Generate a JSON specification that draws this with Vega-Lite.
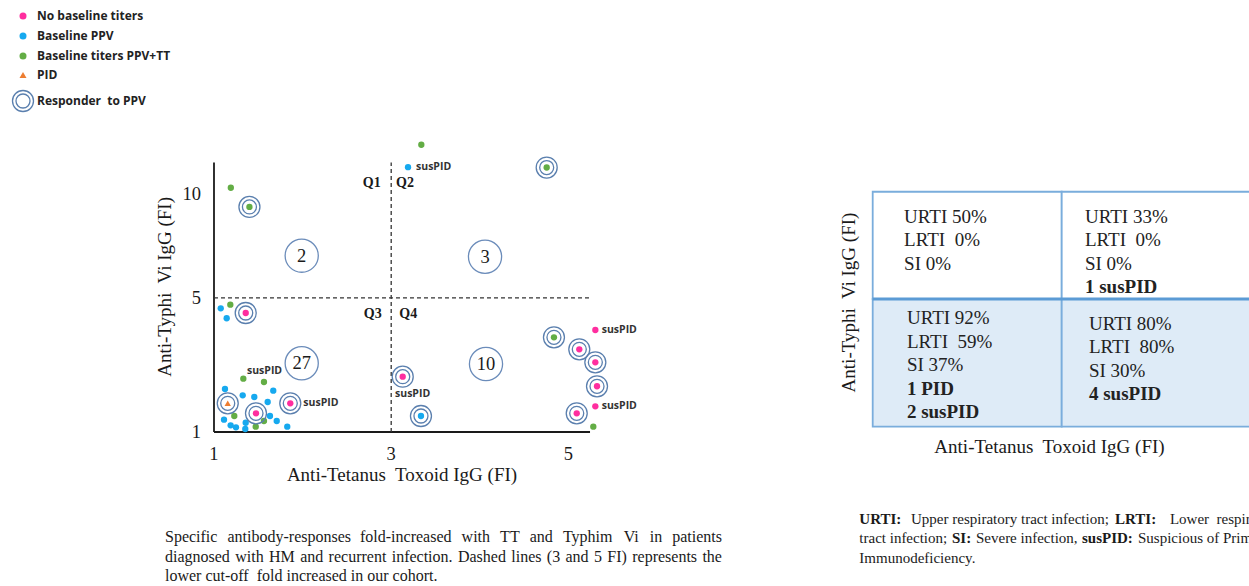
{
  "$schema": "https://vega.github.io/schema/vega-lite/v6.json",
  "width": 1249,
  "height": 586,
  "autosize": {"type": "fit", "contains": "padding"},
  "padding": 0,
  "background": "white",
  "config": {"view": {"stroke": null}},
  "datasets": {
    "points": [
      {"tt": 1.19, "vi": 10.35, "group": "Baseline titers PPV+TT", "resp": false},
      {"tt": 1.40, "vi": 9.29, "group": "Baseline titers PPV+TT", "resp": true},
      {"tt": 3.34, "vi": 12.93, "group": "Baseline titers PPV+TT", "resp": false},
      {"tt": 3.19, "vi": 11.55, "group": "Baseline PPV", "resp": false},
      {"tt": 4.755, "vi": 11.53, "group": "Baseline titers PPV+TT", "resp": true},
      {"tt": 1.076, "vi": 4.585, "group": "Baseline PPV", "resp": false},
      {"tt": 1.184, "vi": 4.726, "group": "Baseline titers PPV+TT", "resp": false},
      {"tt": 1.143, "vi": 4.206, "group": "Baseline PPV", "resp": false},
      {"tt": 1.358, "vi": 4.405, "group": "No baseline titers", "resp": true},
      {"tt": 1.331, "vi": 2.245, "group": "Baseline titers PPV+TT", "resp": false},
      {"tt": 1.564, "vi": 2.154, "group": "Baseline titers PPV+TT", "resp": false},
      {"tt": 1.124, "vi": 1.968, "group": "Baseline PPV", "resp": false},
      {"tt": 1.324, "vi": 1.807, "group": "Baseline PPV", "resp": false},
      {"tt": 1.455, "vi": 1.765, "group": "Baseline PPV", "resp": false},
      {"tt": 1.606, "vi": 1.643, "group": "Baseline PPV", "resp": false},
      {"tt": 1.669, "vi": 1.924, "group": "Baseline PPV", "resp": false},
      {"tt": 1.155, "vi": 1.612, "group": "PID", "resp": true},
      {"tt": 1.474, "vi": 1.383, "group": "No baseline titers", "resp": true},
      {"tt": 1.861, "vi": 1.612, "group": "No baseline titers", "resp": true},
      {"tt": 1.229, "vi": 1.324, "group": "Baseline titers PPV+TT", "resp": false},
      {"tt": 1.113, "vi": 1.246, "group": "Baseline PPV", "resp": false},
      {"tt": 1.188, "vi": 1.13, "group": "Baseline PPV", "resp": false},
      {"tt": 1.248, "vi": 1.091, "group": "Baseline PPV", "resp": false},
      {"tt": 1.353, "vi": 1.058, "group": "Baseline PPV", "resp": false},
      {"tt": 1.358, "vi": 1.183, "group": "Baseline PPV", "resp": false},
      {"tt": 1.471, "vi": 1.103, "group": "Baseline titers PPV+TT", "resp": false},
      {"tt": 1.564, "vi": 1.218, "group": "Baseline titers PPV+TT", "resp": false},
      {"tt": 1.632, "vi": 1.324, "group": "Baseline PPV", "resp": false},
      {"tt": 1.708, "vi": 1.218, "group": "Baseline PPV", "resp": false},
      {"tt": 1.827, "vi": 1.103, "group": "Baseline PPV", "resp": false},
      {"tt": 3.13, "vi": 2.30, "group": "No baseline titers", "resp": true},
      {"tt": 3.336, "vi": 1.324, "group": "Baseline PPV", "resp": true},
      {"tt": 4.837, "vi": 3.527, "group": "Baseline titers PPV+TT", "resp": true},
      {"tt": 5.123, "vi": 3.127, "group": "No baseline titers", "resp": true},
      {"tt": 5.304, "vi": 2.72, "group": "No baseline titers", "resp": true},
      {"tt": 5.323, "vi": 2.039, "group": "No baseline titers", "resp": true},
      {"tt": 5.304, "vi": 3.781, "group": "No baseline titers", "resp": false},
      {"tt": 5.304, "vi": 1.542, "group": "No baseline titers", "resp": false},
      {"tt": 5.094, "vi": 1.383, "group": "No baseline titers", "resp": true},
      {"tt": 5.281, "vi": 1.103, "group": "Baseline titers PPV+TT", "resp": false}
    ],
    "labels": [
      {"tt": 3.28, "vi": 11.55, "text": "susPID"},
      {"tt": 1.372, "vi": 2.471, "text": "susPID"},
      {"tt": 2.008, "vi": 1.612, "text": "susPID"},
      {"tt": 3.043, "vi": 1.832, "text": "susPID"},
      {"tt": 5.376, "vi": 3.781, "text": "susPID"},
      {"tt": 5.376, "vi": 1.542, "text": "susPID"}
    ],
    "axes": [
      {"tt": 1, "tt2": 5.244, "vi": 1, "vi2": 1, "kind": "axis"},
      {"tt": 1, "tt2": 1, "vi": 1, "vi2": 11.83, "kind": "axis"},
      {"tt": 3, "tt2": 3, "vi": 1, "vi2": 11.83, "kind": "cutoff"},
      {"tt": 1, "tt2": 5.244, "vi": 5, "vi2": 5, "kind": "cutoff"}
    ],
    "quads": [
      {"tt": 1.99, "vi": 6.834, "n": "2"},
      {"tt": 4.059, "vi": 6.786, "n": "3"},
      {"tt": 1.99, "vi": 2.690, "n": "27"},
      {"tt": 4.07, "vi": 2.668, "n": "10"}
    ],
    "qlabels": [
      {"tt": 2.78, "vi": 10.61, "q": "Q1"},
      {"tt": 3.156, "vi": 10.61, "q": "Q2"},
      {"tt": 2.791, "vi": 4.367, "q": "Q3"},
      {"tt": 3.193, "vi": 4.367, "q": "Q4"}
    ],
    "yticks": [
      {"tt": 0.853, "vi": 1, "text": "1"},
      {"tt": 0.853, "vi": 5, "text": "5"},
      {"tt": 0.853, "vi": 10, "text": "10"}
    ],
    "xticks": [
      {"tt": 1, "vi": 0.62, "text": "1"},
      {"tt": 3, "vi": 0.62, "text": "3"},
      {"tt": 5, "vi": 0.62, "text": "5"}
    ],
    "xtitle": [{"tt": 3.122, "vi": 0.3445, "text": "Anti-Tetanus\u00a0 Toxoid IgG (FI)"}],
    "ytitle": [{"tt": 0.447, "vi": 5.45, "text": "Anti-Typhi\u00a0 Vi IgG (FI)"}],
    "cells": [
      {"quad": "Q1", "row": "top", "tx": 0, "tx2": 1, "ty": 1, "ty2": 1.84},
      {"quad": "Q2", "row": "top", "tx": 1, "tx2": 2, "ty": 1, "ty2": 1.84},
      {"quad": "Q3", "row": "bottom", "tx": 0, "tx2": 1, "ty": 0, "ty2": 1},
      {"quad": "Q4", "row": "bottom", "tx": 1, "tx2": 2, "ty": 0, "ty2": 1}
    ],
    "midline": [{"tx": 0, "tx2": 2, "ty": 1}],
    "celltext": [
      {"quad": "Q1", "tx": 0.166, "ty": 1.6445, "text": "URTI 50%", "bold": false},
      {"quad": "Q1", "tx": 0.166, "ty": 1.4605, "text": "LRTI\u00a0 0%", "bold": false},
      {"quad": "Q1", "tx": 0.166, "ty": 1.2764, "text": "SI 0%", "bold": false},
      {"quad": "Q2", "tx": 1.123, "ty": 1.6445, "text": "URTI 33%", "bold": false},
      {"quad": "Q2", "tx": 1.123, "ty": 1.4605, "text": "LRTI\u00a0 0%", "bold": false},
      {"quad": "Q2", "tx": 1.123, "ty": 1.2764, "text": "SI 0%", "bold": false},
      {"quad": "Q2", "tx": 1.123, "ty": 1.0924, "text": "1 susPID", "bold": true},
      {"quad": "Q3", "tx": 0.181, "ty": 0.8489, "text": "URTI 92%", "bold": false},
      {"quad": "Q3", "tx": 0.181, "ty": 0.6656, "text": "LRTI\u00a0 59%", "bold": false},
      {"quad": "Q3", "tx": 0.181, "ty": 0.4824, "text": "SI 37%", "bold": false},
      {"quad": "Q3", "tx": 0.181, "ty": 0.2991, "text": "1 PID", "bold": true},
      {"quad": "Q3", "tx": 0.181, "ty": 0.1159, "text": "2 susPID", "bold": true},
      {"quad": "Q4", "tx": 1.144, "ty": 0.8042, "text": "URTI 80%", "bold": false},
      {"quad": "Q4", "tx": 1.144, "ty": 0.6218, "text": "LRTI\u00a0 80%", "bold": false},
      {"quad": "Q4", "tx": 1.144, "ty": 0.4393, "text": "SI 30%", "bold": false},
      {"quad": "Q4", "tx": 1.144, "ty": 0.2569, "text": "4 susPID", "bold": true}
    ],
    "tablextitle": [{"tx": 0.9354, "ty": -0.1566, "text": "Anti-Tetanus\u00a0 Toxoid IgG (FI)"}],
    "tableytitle": [{"tx": -0.1254, "ty": 0.9726, "text": "Anti-Typhi\u00a0 Vi IgG (FI)"}],
    "leftcaption": [
      {"fx": 0.1321, "fy": 0.9164, "text": "Specific"},
      {"fx": 0.18215, "fy": 0.9164, "text": "antibody-responses"},
      {"fx": 0.28822, "fy": 0.9164, "text": "fold-increased"},
      {"fx": 0.36957, "fy": 0.9164, "text": "with"},
      {"fx": 0.40041, "fy": 0.9164, "text": "TT"},
      {"fx": 0.42412, "fy": 0.9164, "text": "and"},
      {"fx": 0.45068, "fy": 0.9164, "text": "Typhim"},
      {"fx": 0.49931, "fy": 0.9164, "text": "Vi"},
      {"fx": 0.52018, "fy": 0.9164, "text": "in"},
      {"fx": 0.53822, "fy": 0.9164, "text": "patients"},
      {"fx": 0.1321, "fy": 0.9497, "text": "diagnosed"},
      {"fx": 0.18833, "fy": 0.9497, "text": "with"},
      {"fx": 0.2154, "fy": 0.9497, "text": "HM"},
      {"fx": 0.24032, "fy": 0.9497, "text": "and"},
      {"fx": 0.2631, "fy": 0.9497, "text": "recurrent"},
      {"fx": 0.31361, "fy": 0.9497, "text": "infection."},
      {"fx": 0.36664, "fy": 0.9497, "text": "Dashed"},
      {"fx": 0.40934, "fy": 0.9497, "text": "lines"},
      {"fx": 0.43782, "fy": 0.9497, "text": "(3"},
      {"fx": 0.45277, "fy": 0.9497, "text": "and"},
      {"fx": 0.47555, "fy": 0.9497, "text": "5"},
      {"fx": 0.48624, "fy": 0.9497, "text": "FI)"},
      {"fx": 0.50617, "fy": 0.9497, "text": "represents"},
      {"fx": 0.56239, "fy": 0.9497, "text": "the"},
      {"fx": 0.1321, "fy": 0.9829, "text": "lower cut-off\u00a0 fold increased in our cohort."}
    ],
    "rightcaption": [
      {"fx": 0.688, "fy": 0.8857, "text": "URTI:", "bold": true},
      {"fx": 0.7294, "fy": 0.8857, "text": "Upper respiratory tract infection;", "bold": false},
      {"fx": 0.8927, "fy": 0.8857, "text": "LRTI:", "bold": true},
      {"fx": 0.9367, "fy": 0.8857, "text": "Lower\u00a0 respiratory", "bold": false},
      {"fx": 0.688, "fy": 0.9189, "text": "tract infection;", "bold": false},
      {"fx": 0.7622, "fy": 0.9189, "text": "SI:", "bold": true},
      {"fx": 0.7814, "fy": 0.9189, "text": "Severe infection,", "bold": false},
      {"fx": 0.8663, "fy": 0.9189, "text": "susPID:", "bold": true},
      {"fx": 0.9111, "fy": 0.9189, "text": "Suspicious of Primary", "bold": false},
      {"fx": 0.688, "fy": 0.9514, "text": "Immunodeficiency.", "bold": false}
    ]
  },
  "layer": [
    {
      "encoding": {
        "x": {"field": "tt", "type": "quantitative", "axis": null, "scale": {"domain": [-1.4153, 12.6817], "nice": false, "zero": false}},
        "y": {"field": "vi", "type": "quantitative", "axis": null, "scale": {"type": "pow", "exponent": 0.53, "domain": [-0.3186, 23.55], "nice": false, "zero": false}}
      },
      "layer": [
        {
          "data": {"name": "axes"},
          "transform": [{"filter": "datum.kind == 'axis'"}],
          "mark": {"type": "rule", "color": "#1a1a1a", "strokeWidth": 1.8},
          "encoding": {"x2": {"field": "tt2"}, "y2": {"field": "vi2"}}
        },
        {
          "data": {"name": "axes"},
          "transform": [{"filter": "datum.kind == 'cutoff'"}],
          "mark": {"type": "rule", "color": "#333333", "strokeWidth": 1.3, "strokeDash": [4, 3]},
          "encoding": {"x2": {"field": "tt2"}, "y2": {"field": "vi2"}}
        },
        {
          "data": {"name": "quads"},
          "mark": {"type": "point", "shape": "circle", "size": 1100, "filled": false, "stroke": "#6b8cba", "strokeWidth": 1.3, "opacity": 1}
        },
        {
          "data": {"name": "quads"},
          "mark": {"type": "text", "font": "Liberation Serif", "fontSize": 18.5, "color": "#1a1a1a", "baseline": "middle", "align": "center"},
          "encoding": {"text": {"field": "n"}}
        },
        {
          "data": {"name": "points"},
          "mark": {"type": "point", "filled": true, "size": 40, "opacity": 1, "strokeWidth": 1.3},
          "encoding": {
            "fill": {"field": "group", "type": "nominal",
              "scale": {"domain": ["No baseline titers", "Baseline PPV", "Baseline titers PPV+TT", "PID", "Responder\u00a0 to PPV"], "range": ["#ff2e9f", "#16a9ef", "#63ad45", "#ed7d31", "transparent"]},
              "legend": {"orient": "none", "legendX": 17, "legendY": 10, "title": null, "padding": 0, "labelFont": "Open Sans", "labelFontWeight": "bold", "labelFontSize": 12, "labelColor": "#222222", "symbolSize": 49, "labelOffset": 8, "rowPadding": 6, "symbolStrokeWidth": 1.3, "symbolOpacity": 1}},
            "stroke": {"field": "group", "type": "nominal",
              "scale": {"domain": ["No baseline titers", "Baseline PPV", "Baseline titers PPV+TT", "PID", "Responder\u00a0 to PPV"], "range": ["transparent", "transparent", "transparent", "transparent", "#5a7fae"]},
              "legend": {"orient": "none", "legendX": 17, "legendY": 10, "title": null, "padding": 0, "labelFont": "Open Sans", "labelFontWeight": "bold", "labelFontSize": 12, "labelColor": "#222222", "symbolSize": 49, "labelOffset": 8, "rowPadding": 6, "symbolStrokeWidth": 1.3, "symbolOpacity": 1}},
            "shape": {"field": "group", "type": "nominal",
              "scale": {"domain": ["No baseline titers", "Baseline PPV", "Baseline titers PPV+TT", "PID", "Responder\u00a0 to PPV"], "range": ["circle", "circle", "circle", "triangle-up", "M -3 0 A 3 3 0 1 0 3 0 A 3 3 0 1 0 -3 0 M -2 0 A 2 2 0 1 0 2 0 A 2 2 0 1 0 -2 0"]},
              "legend": {"orient": "none", "legendX": 17, "legendY": 10, "title": null, "padding": 0, "labelFont": "Open Sans", "labelFontWeight": "bold", "labelFontSize": 12, "labelColor": "#222222", "symbolSize": 49, "labelOffset": 8, "rowPadding": 6, "symbolStrokeWidth": 1.3, "symbolOpacity": 1}}
          }
        },
        {
          "data": {"name": "points"},
          "transform": [{"filter": "datum.resp"}],
          "mark": {"type": "point", "shape": "M -3 0 A 3 3 0 1 0 3 0 A 3 3 0 1 0 -3 0 M -2 0 A 2 2 0 1 0 2 0 A 2 2 0 1 0 -2 0", "size": 49, "filled": false, "stroke": "#5a7fae", "strokeWidth": 1.3, "opacity": 1}
        },
        {
          "data": {"name": "labels"},
          "mark": {"type": "text", "align": "left", "baseline": "middle", "font": "Open Sans", "fontWeight": "bold", "fontSize": 10.5, "color": "#333333"},
          "encoding": {"text": {"field": "text"}}
        },
        {
          "data": {"name": "yticks"},
          "mark": {"type": "text", "align": "right", "baseline": "middle", "font": "Liberation Serif", "fontSize": 18.5, "color": "#1a1a1a"},
          "encoding": {"text": {"field": "text"}}
        },
        {
          "data": {"name": "xticks"},
          "mark": {"type": "text", "align": "center", "baseline": "middle", "font": "Liberation Serif", "fontSize": 18.5, "color": "#1a1a1a"},
          "encoding": {"text": {"field": "text"}}
        },
        {
          "data": {"name": "qlabels"},
          "mark": {"type": "text", "align": "center", "baseline": "middle", "font": "Liberation Serif", "fontWeight": "bold", "fontSize": 14, "color": "#1a1a1a"},
          "encoding": {"text": {"field": "q"}}
        },
        {
          "data": {"name": "xtitle"},
          "mark": {"type": "text", "align": "center", "baseline": "middle", "font": "Liberation Serif", "fontSize": 19, "color": "#1a1a1a"},
          "encoding": {"text": {"field": "text"}}
        },
        {
          "data": {"name": "ytitle"},
          "mark": {"type": "text", "align": "center", "baseline": "middle", "angle": 270, "font": "Liberation Serif", "fontSize": 19, "color": "#1a1a1a"},
          "encoding": {"text": {"field": "text"}}
        }
      ]
    },
    {
      "encoding": {
        "x": {"field": "tx", "type": "quantitative", "axis": null, "scale": {"domain": [-4.6175, 1.991], "nice": false, "zero": false}},
        "y": {"field": "ty", "type": "quantitative", "axis": null, "scale": {"domain": [-1.2475, 3.3414], "nice": false, "zero": false}}
      },
      "layer": [
        {
          "data": {"name": "cells"},
          "mark": {"type": "rect", "stroke": "#7aaddc", "strokeWidth": 1.8, "clip": true},
          "encoding": {
            "x2": {"field": "tx2"},
            "y2": {"field": "ty2"},
            "fill": {"field": "row", "type": "nominal", "scale": {"domain": ["top", "bottom"], "range": ["#ffffff", "#deebf7"]}, "legend": null}
          }
        },
        {
          "data": {"name": "midline"},
          "mark": {"type": "rule", "color": "#5b9bd5", "strokeWidth": 3, "clip": true},
          "encoding": {"x2": {"field": "tx2"}}
        },
        {
          "data": {"name": "celltext"},
          "transform": [{"filter": "!datum.bold"}],
          "mark": {"type": "text", "align": "left", "baseline": "middle", "font": "Liberation Serif", "fontSize": 19, "color": "#222222"},
          "encoding": {"text": {"field": "text"}}
        },
        {
          "data": {"name": "celltext"},
          "transform": [{"filter": "datum.bold"}],
          "mark": {"type": "text", "align": "left", "baseline": "middle", "font": "Liberation Serif", "fontWeight": "bold", "fontSize": 19, "color": "#222222"},
          "encoding": {"text": {"field": "text"}}
        },
        {
          "data": {"name": "tablextitle"},
          "mark": {"type": "text", "align": "center", "baseline": "middle", "font": "Liberation Serif", "fontSize": 19, "color": "#1a1a1a"},
          "encoding": {"text": {"field": "text"}}
        },
        {
          "data": {"name": "tableytitle"},
          "mark": {"type": "text", "align": "center", "baseline": "middle", "angle": 270, "font": "Liberation Serif", "fontSize": 19, "color": "#1a1a1a"},
          "encoding": {"text": {"field": "text"}}
        }
      ]
    },
    {
      "encoding": {
        "x": {"field": "fx", "type": "quantitative", "axis": null, "scale": {"domain": [0, 1], "nice": false, "zero": false}},
        "y": {"field": "fy", "type": "quantitative", "axis": null, "scale": {"domain": [1, 0], "nice": false, "zero": false}}
      },
      "layer": [
        {
          "data": {"name": "leftcaption"},
          "mark": {"type": "text", "align": "left", "baseline": "middle", "font": "Liberation Serif", "fontSize": 16, "color": "#1a1a1a", "clip": true},
          "encoding": {"text": {"field": "text"}}
        },
        {
          "data": {"name": "rightcaption"},
          "transform": [{"filter": "!datum.bold"}],
          "mark": {"type": "text", "align": "left", "baseline": "middle", "font": "Liberation Serif", "fontSize": 15, "color": "#1a1a1a", "clip": true},
          "encoding": {"text": {"field": "text"}}
        },
        {
          "data": {"name": "rightcaption"},
          "transform": [{"filter": "datum.bold"}],
          "mark": {"type": "text", "align": "left", "baseline": "middle", "font": "Liberation Serif", "fontWeight": "bold", "fontSize": 15, "color": "#1a1a1a", "clip": true},
          "encoding": {"text": {"field": "text"}}
        }
      ]
    }
  ],
  "resolve": {"scale": {"x": "independent", "y": "independent", "fill": "independent", "stroke": "independent", "shape": "independent"}}
}
